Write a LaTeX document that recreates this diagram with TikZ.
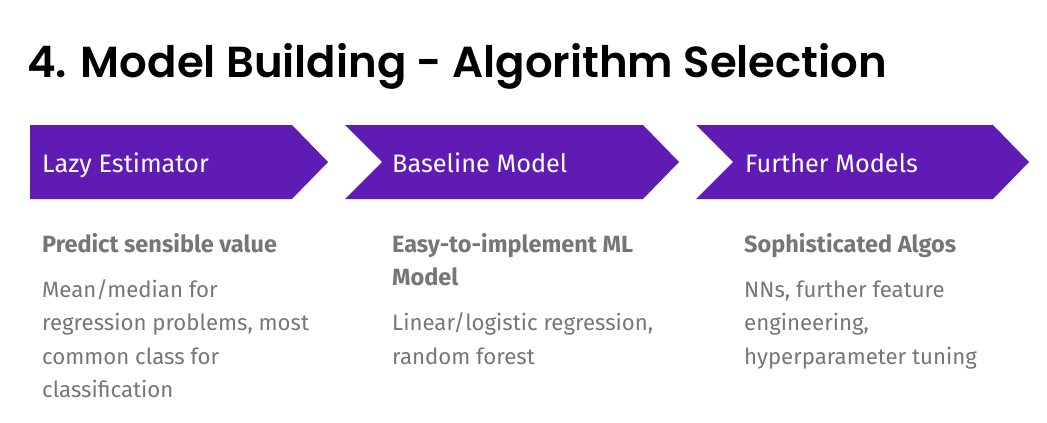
\documentclass[tikz,border=0pt]{standalone}
\usepackage{fontspec}
\setmainfont{Fira Sans}
\newfontfamily\titlefont{Poppins}[BoldFont={Poppins SemiBold}]
\definecolor{chevpurple}{HTML}{601BB4}
\definecolor{bodygray}{HTML}{767676}
\begin{document}
\begin{tikzpicture}[x=1pt,y=-1pt,
  chev/.style={fill=chevpurple,draw=none},
  headtext/.style={anchor=base west,inner sep=0pt,text=white,font=\fontsize{25.3}{28}\selectfont},
  leadtext/.style={anchor=base west,inner sep=0pt,text=bodygray,font=\fontsize{23.5}{26}\selectfont\bfseries},
  linetext/.style={anchor=base west,inner sep=0pt,text=bodygray,font=\fontsize{22.2}{24}\selectfont},
  titletext/.style={anchor=base west,inner sep=0pt,text=black,font=\titlefont\fontsize{43.4}{50}\selectfont\bfseries}]
  \useasboundingbox (0,0) rectangle (1047,423);
  % title
  \node[titletext] (title) at (27,77) {4. Model Building - Algorithm Selection};
  % chevrons
  \fill[chev] (30,125) -- (292,125) -- (328,162) -- (292,199) -- (30,199) -- cycle;
  \fill[chev] (345,125) -- (643,125) -- (679,162) -- (643,199) -- (345,199) -- (382,162) -- cycle;
  \fill[chev] (696,125) -- (993,125) -- (1029,162) -- (993,199) -- (696,199) -- (733,162) -- cycle;
  \node[headtext] (h1) at (42,172) {Lazy Estimator};
  \node[headtext] (h2) at (392,172) {Baseline Model};
  \node[headtext] (h3) at (745,172) {Further Models};
  % column 1
  \node[leadtext] (a0) at (42,252) {Predict sensible value};
  \node[linetext] (a1) at (42,297) {Mean/median for};
  \node[linetext] (a2) at (42,330) {regression problems, most};
  \node[linetext] (a3) at (42,364) {common class for};
  \node[linetext] (a4) at (42,397) {classification};
  % column 2
  \node[leadtext] (b0) at (392,252) {Easy-to-implement ML};
  \node[leadtext] (b1) at (392,285) {Model};
  \node[linetext] (b2) at (392,330) {Linear/logistic regression,};
  \node[linetext] (b3) at (392,364) {random forest};
  % column 3
  \node[leadtext] (c0) at (744,252) {Sophisticated Algos};
  \node[linetext] (c1) at (744,297) {NNs, further feature};
  \node[linetext] (c2) at (744,330) {engineering,};
  \node[linetext] (c3) at (744,364) {hyperparameter tuning};
\end{tikzpicture}
\end{document}
